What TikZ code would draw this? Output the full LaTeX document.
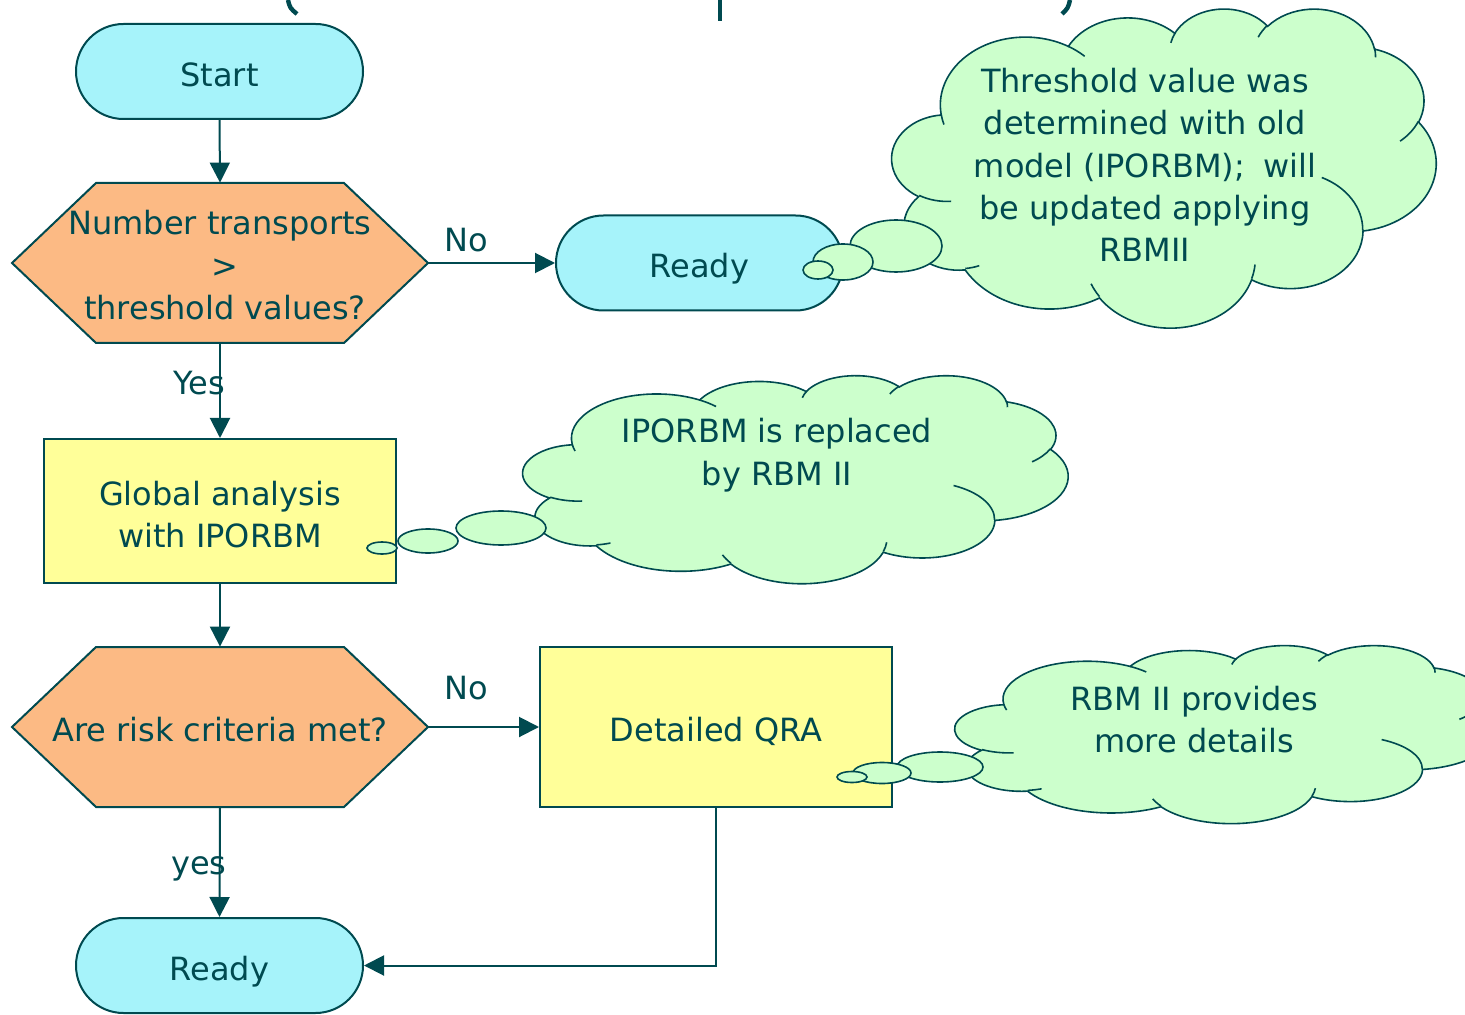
\documentclass[tikz,border=0pt]{standalone}
\usepackage{fontspec}
\setmainfont{DejaVu Sans}
\usetikzlibrary{shapes.misc,shapes.geometric,arrows.meta,calc}
\definecolor{ink}{HTML}{004A50}
\definecolor{cyanfill}{HTML}{A6F3FA}
\definecolor{orangefill}{HTML}{FCBA84}
\definecolor{yellowfill}{HTML}{FFFF99}
\definecolor{cloudfill}{HTML}{CCFFCC}
% convert an OOXML arcTo (visual angles) to parametric angles
\newcommand\defarc[5]{%
  \pgfmathsetmacro\tmpS{atan2((#2)*sin(#4),(#3)*cos(#4))}%
  \pgfmathsetmacro\tmpR{atan2((#2)*sin((#4)+(#5)),(#3)*cos((#4)+(#5)))}%
  \pgfmathsetmacro\tmpE{\tmpS+Mod((\tmpR)-(\tmpS),360)}%
  \expandafter\xdef\csname a#1s\endcsname{\tmpS}%
  \expandafter\xdef\csname a#1e\endcsname{\tmpE}%
}
\defarc{A}{67.53}{91.90}{-190.4875}{123.7805}
\defarc{B}{53.33}{72.67}{-144.1024}{89.9452}
\defarc{C}{43.65}{59.45}{-145.8079}{99.7230}
\defarc{D}{48.57}{65.95}{-130.9861}{117.2417}
\defarc{E}{53.33}{72.73}{-78.7089}{109.0269}
\defarc{F}{67.75}{92.20}{-46.2673}{130.2690}
\defarc{G}{57.85}{78.67}{0.6250}{114.0333}
\defarc{H}{67.52}{92.15}{22.4516}{115.1726}
\defarc{I}{77.20}{105.43}{66.2426}{75.7110}
\defarc{J}{43.60}{59.18}{-274.9421}{146.7356}
\defarc{K}{43.45}{59.45}{-246.8285}{152.5226}
\defarc{iA}{43.45}{59.45}{86.7420}{26.4295}
\defarc{iB}{43.60}{59.18}{73.6105}{11.4475}
\defarc{iC}{67.52}{92.15}{137.6242}{14.0811}
\defarc{iD}{67.52}{92.15}{6.4533}{15.9984}
\defarc{iE}{57.85}{78.67}{-70.2924}{70.9174}
\defarc{iF}{53.33}{72.73}{30.3180}{27.7515}
\defarc{iG}{48.57}{65.95}{-13.7443}{14.8589}
\defarc{iH}{48.57}{65.95}{-149.1815}{18.1954}
\defarc{iI}{43.65}{59.45}{-163.4943}{17.6864}
\defarc{iJ}{67.53}{91.90}{-66.7070}{12.3194}
\defarc{iK}{67.53}{91.90}{157.6544}{11.8582}
\newcommand\pptcloud[4]{%
 \begin{scope}[shift={(#1,#2)},xscale=#3/432,yscale=#4/432]
  \filldraw[cloudsty] (39.00,143.70)
   arc[x radius=67.53,y radius=91.90,start angle=\aAs,end angle=\aAe]
   arc[x radius=53.33,y radius=72.67,start angle=\aBs,end angle=\aBe]
   arc[x radius=43.65,y radius=59.45,start angle=\aCs,end angle=\aCe]
   arc[x radius=48.57,y radius=65.95,start angle=\aDs,end angle=\aDe]
   arc[x radius=53.33,y radius=72.73,start angle=\aEs,end angle=\aEe]
   arc[x radius=67.75,y radius=92.20,start angle=\aFs,end angle=\aFe]
   arc[x radius=57.85,y radius=78.67,start angle=\aGs,end angle=\aGe]
   arc[x radius=67.52,y radius=92.15,start angle=\aHs,end angle=\aHe]
   arc[x radius=77.20,y radius=105.43,start angle=\aIs,end angle=\aIe]
   arc[x radius=43.60,y radius=59.18,start angle=\aJs,end angle=\aJe]
   arc[x radius=43.45,y radius=59.45,start angle=\aKs,end angle=\aKe]
   -- cycle;
  \draw[cloudline]
   (46.93,261.77) arc[x radius=43.45,y radius=59.45,start angle=\aiAs,end angle=\aiAe]
   (69.28,348.99) arc[x radius=43.60,y radius=59.18,start angle=\aiBs,end angle=\aiBe]
   (164.78,390.90) arc[x radius=67.52,y radius=92.15,start angle=\aiCs,end angle=\aiCe]
   (288.27,347.51) arc[x radius=67.52,y radius=92.15,start angle=\aiDs,end angle=\aiDe]
   (341.29,229.54) arc[x radius=57.85,y radius=78.67,start angle=\aiEs,end angle=\aiEe]
   (417.98,153.54) arc[x radius=53.33,y radius=72.73,start angle=\aiFs,end angle=\aiFe]
   (383.24,54.26) arc[x radius=48.57,y radius=65.95,start angle=\aiGs,end angle=\aiGe]
   (290.78,39.52) arc[x radius=48.57,y radius=65.95,start angle=\aiHs,end angle=\aiHe]
   (221.41,47.20) arc[x radius=43.65,y radius=59.45,start angle=\aiIs,end angle=\aiIe]
   (140.00,51.92) arc[x radius=67.53,y radius=91.90,start angle=\aiJs,end angle=\aiJe]
   (41.27,157.89) arc[x radius=67.53,y radius=91.90,start angle=\aiKs,end angle=\aiKe];
 \end{scope}}
\tikzset{
 every node/.style={font=\fontsize{16}{21.2}\selectfont, text=ink},
 oneline/.style={text height=17.9pt, text depth=3.2pt},
 term/.style={rounded rectangle, draw=ink, line width=1pt, fill=cyanfill,
   minimum width=143.5pt, minimum height=47.5pt, inner sep=0pt, oneline},
 procbox/.style={rectangle, draw=ink, line width=1pt, fill=yellowfill,
   minimum width=176pt, inner sep=0pt, align=center},
 hexnode/.style={minimum width=208pt, minimum height=80pt, inner sep=0pt, align=center},
 hexdraw/.style={draw=ink, line width=1pt, fill=orangefill},
 flow/.style={draw=ink, line width=1pt, -{Triangle[length=10pt,width=10pt]}},
 lbl/.style={inner sep=0pt},
 cloudsty/.style={draw=ink, line width=0.8pt, fill=cloudfill},
 cloudline/.style={draw=ink, line width=0.8pt},
 bubble/.style={ellipse, draw=ink, line width=0.8pt, fill=cloudfill, inner sep=0pt},
 cloudtext/.style={align=center, inner sep=0pt},
 frag/.style={draw=ink, line width=2.2pt},
}
\begin{document}
\begin{tikzpicture}[x=0.5pt,y=-0.5pt]
\useasboundingbox (0,0) rectangle (1465,1015);
% cut-off title fragments
\draw[frag] (288,0) .. controls (290,8) .. (297,14);
\draw[frag] (720,0) -- (720,21);
\draw[frag] (1070,0) .. controls (1068,8) .. (1062,14);
% flowchart nodes
\node[term] (s) at (219.5,71.5) {Start};
\coordinate (q1c) at (220,263);
\draw[hexdraw] ($(q1c)+(-208,0)$) -- ($(q1c)+(-124,-80)$) -- ($(q1c)+(124,-80)$)
  -- ($(q1c)+(208,0)$) -- ($(q1c)+(124,80)$) -- ($(q1c)+(-124,80)$) -- cycle;
\node[hexnode] (q1) at (q1c) {\rule{0pt}{14.5pt}Number transports\\ \hspace*{5pt}>\\ \hspace*{5pt}threshold values?};
\node[term] (r1) at (699.5,263) {Ready};
\node[procbox, minimum height=72pt] (g) at (220,511) {\rule{0pt}{16pt}Global analysis\\ with IPORBM};
\coordinate (q2c) at (220,727);
\draw[hexdraw] ($(q2c)+(-208,0)$) -- ($(q2c)+(-124,-80)$) -- ($(q2c)+(124,-80)$)
  -- ($(q2c)+(208,0)$) -- ($(q2c)+(124,80)$) -- ($(q2c)+(-124,80)$) -- cycle;
\node[hexnode, oneline] (q2) at (q2c) {Are risk criteria met?};
\node[procbox, oneline, minimum height=80pt] (d) at (716,727) {Detailed QRA};
\node[term] (r2) at (219.5,965.5) {Ready};
% connectors
\draw[flow] (s.south) -- (q1.north);
\draw[flow] (q1.east) -- (r1.west);
\draw[flow] (q1.south) -- (g.north);
\draw[flow] (g.south) -- (q2.north);
\draw[flow] (q2.east) -- (d.west);
\draw[flow] (q2.south) -- (r2.north);
\draw[flow] (d.south) |- (r2.east);
% labels
\node[lbl] (no1) at (466,240) {No};
\node[lbl] (yes1) at (199,383) {Yes};
\node[lbl] (no2) at (466,688) {No};
\node[lbl] (yes2) at (199,869) {yes};
% cloud 1
\pptcloud{892}{8}{544}{319}
\node[bubble, minimum width=46pt, minimum height=26pt] (b1a) at (896,246) {};
\node[bubble, minimum width=30pt, minimum height=18pt] (b1b) at (843,262) {};
\node[bubble, minimum width=15pt, minimum height=9pt] (b1c) at (818,270) {};
\node[cloudtext] (c1) at (1145,165) {Threshold value was\\ determined with old\\ model (IPORBM);\hspace{4pt} will\\ be updated applying\\ RBMII};
% cloud 2
\pptcloud{523}{375}{545}{208}
\node[bubble, minimum width=45pt, minimum height=17pt] (b2a) at (501,528) {};
\node[bubble, minimum width=30pt, minimum height=12pt] (b2b) at (428,541) {};
\node[bubble, minimum width=15pt, minimum height=6pt] (b2c) at (382,548) {};
\node[cloudtext] (c2) at (777,455) {IPORBM is replaced\\ by RBM II};
% cloud 3
\pptcloud{955}{645}{540}{178}
\node[bubble, minimum width=43pt, minimum height=15pt] (b3a) at (940,767) {};
\node[bubble, minimum width=29pt, minimum height=10.5pt] (b3b) at (882,773) {};
\node[bubble, minimum width=15pt, minimum height=5.5pt] (b3c) at (852,777) {};
\node[cloudtext] (c3) at (1194,719.5) {RBM II provides\\ more details};
\end{tikzpicture}
\end{document}
